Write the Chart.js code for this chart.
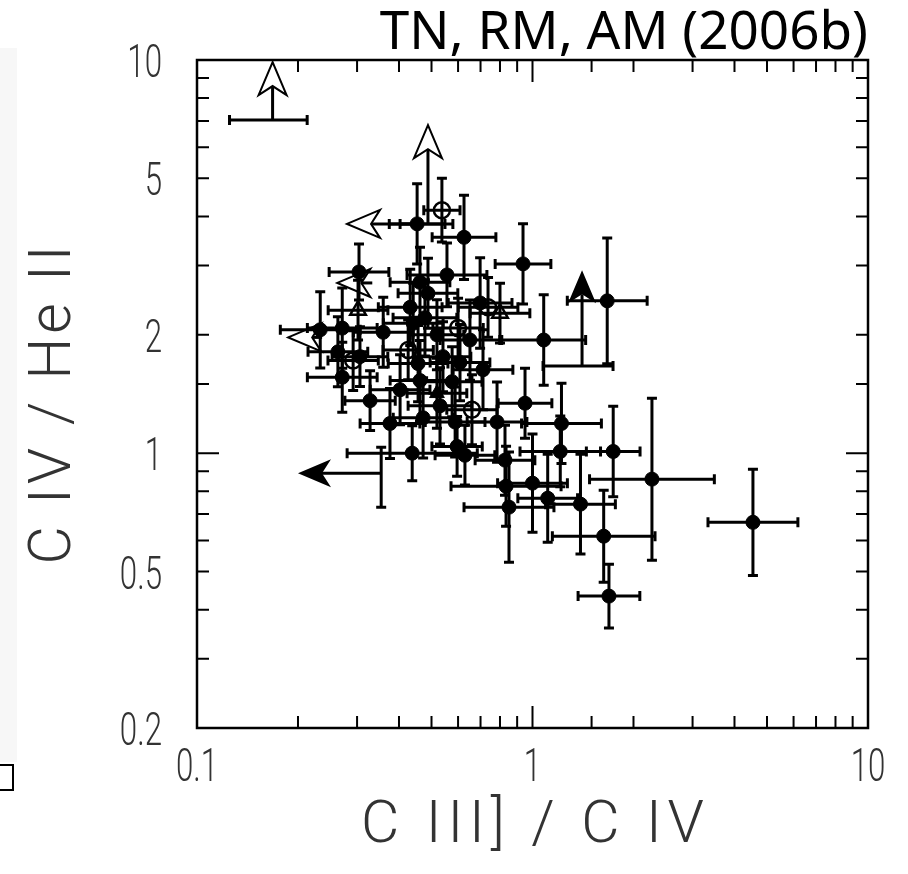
<!DOCTYPE html>
<html lang="en">
<head>
<meta charset="UTF-8" />
<title>C IV / He II vs C III] / C IV</title>
<script src="https://cdn.jsdelivr.net/npm/chart.js"></script>
<style>
  html, body { margin: 0; padding: 0; background: #fff; }
</style>
</head>
<body>
<canvas id="ratioChart" width="908" height="874"></canvas>
<script>
// detections (filled circles): x = C III]/C IV, y = C IV/He II, errors in dex
const filledX    = [0.453, 0.625, 0.937, 0.304, 0.556, 0.462, 0.488, 0.432, 0.698, 1.67, 1.08, 0.233, 0.271, 0.359, 0.263, 0.306, 0.541, 0.608, 0.712, 0.456, 0.271, 0.462, 0.576, 0.328, 0.950, 0.376, 0.472, 0.588, 0.784, 1.22, 0.438, 0.629, 0.596, 0.828, 1.21, 1.74, 2.27, 0.834, 1.00, 1.11, 0.851, 1.39, 1.63, 1.69, 4.54, 0.441, 0.478, 0.519, 0.651, 0.403, 0.530];
const filledY    = [3.83, 3.54, 3.03, 2.89, 2.84, 2.72, 2.55, 2.35, 2.41, 2.44, 1.94, 2.06, 2.08, 2.03, 1.81, 1.76, 1.76, 1.70, 1.63, 1.69, 1.56, 1.53, 1.52, 1.36, 1.34, 1.19, 1.23, 1.20, 1.20, 1.19, 1.00, 0.988, 1.04, 0.960, 1.01, 1.01, 0.859, 0.824, 0.839, 0.768, 0.729, 0.742, 0.615, 0.433, 0.667, 2.14, 2.21, 2.00, 1.94, 1.45, 1.32];
const filledXErr = [0.083, 0.095, 0.083, 0.089, 0.119, 0.089, 0.089, 0.095, 0.095, 0.119, 0.125, 0.119, 0.104, 0.089, 0.089, 0.083, 0.083, 0.089, 0.089, 0.089, 0.104, 0.089, 0.089, 0.075, 0.080, 0.089, 0.089, 0.089, 0.089, 0.119, 0.194, 0.089, 0.075, 0.089, 0.120, 0.080, 0.186, 0.164, 0.104, 0.089, 0.134, 0.104, 0.153, 0.092, 0.134, 0.089, 0.095, 0.080, 0.089, 0.089, 0.095];
const filledYErr = [0.102, 0.107, 0.102, 0.071, 0.081, 0.089, 0.089, 0.097, 0.115, 0.160, 0.115, 0.097, 0.102, 0.089, 0.089, 0.076, 0.089, 0.097, 0.102, 0.097, 0.089, 0.102, 0.089, 0.076, 0.089, 0.089, 0.102, 0.089, 0.102, 0.102, 0.070, 0.076, 0.076, 0.089, 0.090, 0.115, 0.206, 0.102, 0.125, 0.112, 0.140, 0.127, 0.117, 0.081, 0.135, 0.102, 0.097, 0.089, 0.102, 0.089, 0.097];

// open circles
const openCircX    = [0.537, 0.737, 0.600, 0.426, 0.292, 0.660];
const openCircY    = [4.15, 2.35, 2.08, 1.83, 1.72, 1.29];
const openCircXErr = [0.054, 0.089, 0.075, 0.075, 0.075, 0.075];
const openCircYErr = [0.081, 0.076, 0.076, 0.076, 0.076, 0.089];

// open triangles
const openTriX    = [0.302, 0.800];
const openTriY    = [2.31, 2.27];
const openTriXErr = [0.089, 0.089];
const openTriYErr = [0.076, 0.076];

// filled triangle
const fillTriX    = [0.519];
const fillTriY    = [1.42];
const fillTriXErr = [0.089];
const fillTriYErr = [0.089];

// lower limits on C IV/He II (up arrows)
const upLimX     = [0.168, 0.488, 1.405];
const upLimY     = [7.04, 3.83, 1.665];
const upLimTipY  = [9.88, 6.83, 2.92];
const upLimXLo   = [0.125, 0.403, 1.075];
const upLimXHi   = [0.213, 0.579, 1.738];
const upLimSolid = [false, false, true];

// upper limits on C III]/C IV (left arrows)
const leftLimX     = [0.453, 0.333, 0.236, 0.354];
const leftLimY     = [3.83, 2.71, 1.97, 0.889];
const leftLimTipX  = [0.280, 0.262, 0.187, 0.200];
const leftLimYLo   = [null, null, null, 0.729];
const leftLimYHi   = [null, null, null, 1.036];
const leftLimSolid = [false, false, false, true];

const xTickLabels = [0.1, 1, 10];
const yTickLabels = [0.2, 0.5, 1, 2, 5, 10];
const xTitle = 'C III] / C IV';
const yTitle = 'C IV / He II';
const mainTitle = 'TN, RM, AM (2006b)';

const CAP = 5;

function pts(xs, ys) {
  return xs.map((v, i) => ({ x: v, y: ys[i] }));
}

function arrowHead(ctx, tx, ty, dir, solid) {
  // dir: 'up' or 'left'; notched head, tip at (tx, ty)
  const L = 33, W = 14, N = 24;
  ctx.beginPath();
  if (dir === 'up') {
    ctx.moveTo(tx, ty);
    ctx.lineTo(tx - W, ty + L);
    ctx.lineTo(tx, ty + N);
    ctx.lineTo(tx + W, ty + L);
  } else {
    ctx.moveTo(tx, ty);
    ctx.lineTo(tx + L, ty - W);
    ctx.lineTo(tx + N, ty);
    ctx.lineTo(tx + L, ty + W);
  }
  ctx.closePath();
  if (solid) ctx.fill(); else ctx.stroke();
}

const backdrop = {
  id: 'backdrop',
  beforeDraw(chart) {
    const ctx = chart.ctx;
    ctx.save();
    ctx.fillStyle = '#fff';
    ctx.fillRect(0, 0, chart.width, chart.height);
    ctx.fillStyle = '#f7f7f7';
    ctx.fillRect(0, 48, 17, 714);
    ctx.strokeStyle = '#000';
    ctx.lineWidth = 2;
    ctx.beginPath();
    ctx.moveTo(0, 765); ctx.lineTo(13, 765); ctx.lineTo(13, 790); ctx.lineTo(0, 790);
    ctx.stroke();
    ctx.restore();
  }
};

const errorBars = {
  id: 'errorBars',
  beforeDatasetsDraw(chart) {
    const { ctx, scales: { x, y } } = chart;
    ctx.save();
    ctx.strokeStyle = '#000';
    ctx.lineWidth = 3;
    chart.data.datasets.forEach(ds => {
      if (!ds.xErr) return;
      ds.data.forEach((p, i) => {
        const px = x.getPixelForValue(p.x), py = y.getPixelForValue(p.y);
        const fx = Math.pow(10, ds.xErr[i]), fy = Math.pow(10, ds.yErr[i]);
        const x0 = x.getPixelForValue(p.x / fx), x1 = x.getPixelForValue(p.x * fx);
        const y0 = y.getPixelForValue(p.y / fy), y1 = y.getPixelForValue(p.y * fy);
        ctx.beginPath();
        ctx.moveTo(x0, py); ctx.lineTo(x1, py);
        ctx.moveTo(x0, py - CAP); ctx.lineTo(x0, py + CAP);
        ctx.moveTo(x1, py - CAP); ctx.lineTo(x1, py + CAP);
        ctx.moveTo(px, y0); ctx.lineTo(px, y1);
        ctx.moveTo(px - CAP, y0); ctx.lineTo(px + CAP, y0);
        ctx.moveTo(px - CAP, y1); ctx.lineTo(px + CAP, y1);
        ctx.stroke();
      });
    });

    // limits
    ctx.fillStyle = '#000';
    upLimX.forEach((v, i) => {
      const px = x.getPixelForValue(v), py = y.getPixelForValue(upLimY[i]);
      const ty = y.getPixelForValue(upLimTipY[i]);
      const x0 = x.getPixelForValue(upLimXLo[i]), x1 = x.getPixelForValue(upLimXHi[i]);
      ctx.lineWidth = 3;
      ctx.beginPath();
      ctx.moveTo(x0, py); ctx.lineTo(x1, py);
      ctx.moveTo(x0, py - CAP); ctx.lineTo(x0, py + CAP);
      ctx.moveTo(x1, py - CAP); ctx.lineTo(x1, py + CAP);
      ctx.moveTo(px, py); ctx.lineTo(px, ty + 24);
      ctx.stroke();
      ctx.lineWidth = 2;
      arrowHead(ctx, px, ty, 'up', upLimSolid[i]);
    });
    leftLimX.forEach((v, i) => {
      const px = x.getPixelForValue(v), py = y.getPixelForValue(leftLimY[i]);
      const tx = x.getPixelForValue(leftLimTipX[i]);
      ctx.lineWidth = 3;
      ctx.beginPath();
      ctx.moveTo(px, py); ctx.lineTo(tx + 24, py);
      if (leftLimYLo[i] !== null) {
        const y0 = y.getPixelForValue(leftLimYLo[i]), y1 = y.getPixelForValue(leftLimYHi[i]);
        ctx.moveTo(px, y0); ctx.lineTo(px, y1);
        ctx.moveTo(px - CAP, y0); ctx.lineTo(px + CAP, y0);
        ctx.moveTo(px - CAP, y1); ctx.lineTo(px + CAP, y1);
      }
      ctx.stroke();
      ctx.lineWidth = 2;
      arrowHead(ctx, tx, py, 'left', leftLimSolid[i]);
    });
    ctx.restore();
  }
};

function squeezed(ctx, text, x, y, sx) {
  ctx.save();
  ctx.translate(x, y);
  ctx.scale(sx, 1);
  ctx.fillText(text, 0, 0);
  ctx.restore();
}

const frame = {
  id: 'frame',
  afterDraw(chart) {
    const { ctx, chartArea: a, scales: { x, y } } = chart;
    ctx.save();
    ctx.strokeStyle = '#000';
    ctx.lineWidth = 2.5;
    ctx.strokeRect(a.left, a.top, a.right - a.left, a.bottom - a.top);
    ctx.lineWidth = 2;
    const isMajor = v => Math.abs(Math.log10(v) - Math.round(Math.log10(v))) < 1e-6;
    ctx.beginPath();
    x.ticks.forEach(t => {
      const p = x.getPixelForValue(t.value);
      if (p <= a.left + 1 || p >= a.right - 1) return;
      const len = isMajor(t.value) ? 22 : 12;
      ctx.moveTo(p, a.bottom); ctx.lineTo(p, a.bottom - len);
      ctx.moveTo(p, a.top); ctx.lineTo(p, a.top + len);
    });
    y.ticks.forEach(t => {
      const p = y.getPixelForValue(t.value);
      if (p <= a.top + 1 || p >= a.bottom - 1) return;
      const len = isMajor(t.value) ? 22 : 12;
      ctx.moveTo(a.left, p); ctx.lineTo(a.left + len, p);
      ctx.moveTo(a.right, p); ctx.lineTo(a.right - len, p);
    });
    ctx.stroke();

    // tick labels
    ctx.fillStyle = '#333';
    ctx.font = '300 46px Roboto';
    ctx.textAlign = 'center';
    ctx.textBaseline = 'alphabetic';
    xTickLabels.forEach(v => {
      squeezed(ctx, String(v), x.getPixelForValue(v), a.bottom + 53, 0.68);
    });
    ctx.textAlign = 'right';
    yTickLabels.forEach(v => {
      squeezed(ctx, String(v), a.left - 35, y.getPixelForValue(v) + 17, 0.68);
    });

    // axis titles
    ctx.font = '300 59px Roboto';
    ctx.letterSpacing = '6px';
    ctx.textAlign = 'center';
    ctx.fillText(xTitle, (a.left + a.right) / 2 + 3, 842);
    ctx.save();
    ctx.translate(70, 405);
    ctx.rotate(-Math.PI / 2);
    ctx.letterSpacing = '4px';
    ctx.fillText(yTitle, 2, 0);
    ctx.restore();
    ctx.restore();
  }
};

new Chart(document.getElementById('ratioChart'), {
  type: 'scatter',
  data: {
    datasets: [
      {
        label: 'filled',
        data: pts(filledX, filledY),
        xErr: filledXErr, yErr: filledYErr,
        pointStyle: 'circle', pointRadius: 7,
        backgroundColor: '#000', borderColor: '#000', borderWidth: 1
      },
      {
        label: 'filled triangle',
        data: pts(fillTriX, fillTriY),
        xErr: fillTriXErr, yErr: fillTriYErr,
        pointStyle: 'triangle', pointRadius: 8.5,
        backgroundColor: '#000', borderColor: '#000', borderWidth: 1
      },
      {
        label: 'open circles',
        data: pts(openCircX, openCircY),
        xErr: openCircXErr, yErr: openCircYErr,
        pointStyle: 'circle', pointRadius: 8,
        backgroundColor: 'rgba(0,0,0,0)', borderColor: '#000', borderWidth: 2.5
      },
      {
        label: 'open triangles',
        data: pts(openTriX, openTriY),
        xErr: openTriXErr, yErr: openTriYErr,
        pointStyle: 'triangle', pointRadius: 9,
        backgroundColor: 'rgba(0,0,0,0)', borderColor: '#000', borderWidth: 2.5
      }
    ]
  },
  options: {
    responsive: false,
    animation: false,
    devicePixelRatio: 1,
    layout: { padding: { left: 0, right: 40, top: 0, bottom: 0 } },
    plugins: {
      legend: { display: false },
      tooltip: { enabled: false },
      title: {
        display: true,
        text: mainTitle,
        align: 'end',
        color: '#000',
        font: { family: 'Noto Sans', size: 53, weight: 'normal', lineHeight: 1.0 },
        padding: { top: 7, bottom: 0 }
      }
    },
    scales: {
      x: {
        type: 'logarithmic',
        min: 0.1, max: 10,
        grid: { display: false },
        border: { display: false },
        ticks: { display: false },
        afterFit(s) { s.height = 146; }
      },
      y: {
        type: 'logarithmic',
        min: 0.2, max: 10,
        grid: { display: false },
        border: { display: false },
        ticks: { display: false },
        afterFit(s) { s.width = 197; }
      }
    }
  },
  plugins: [backdrop, errorBars, frame]
});
</script>
</body>
</html>
